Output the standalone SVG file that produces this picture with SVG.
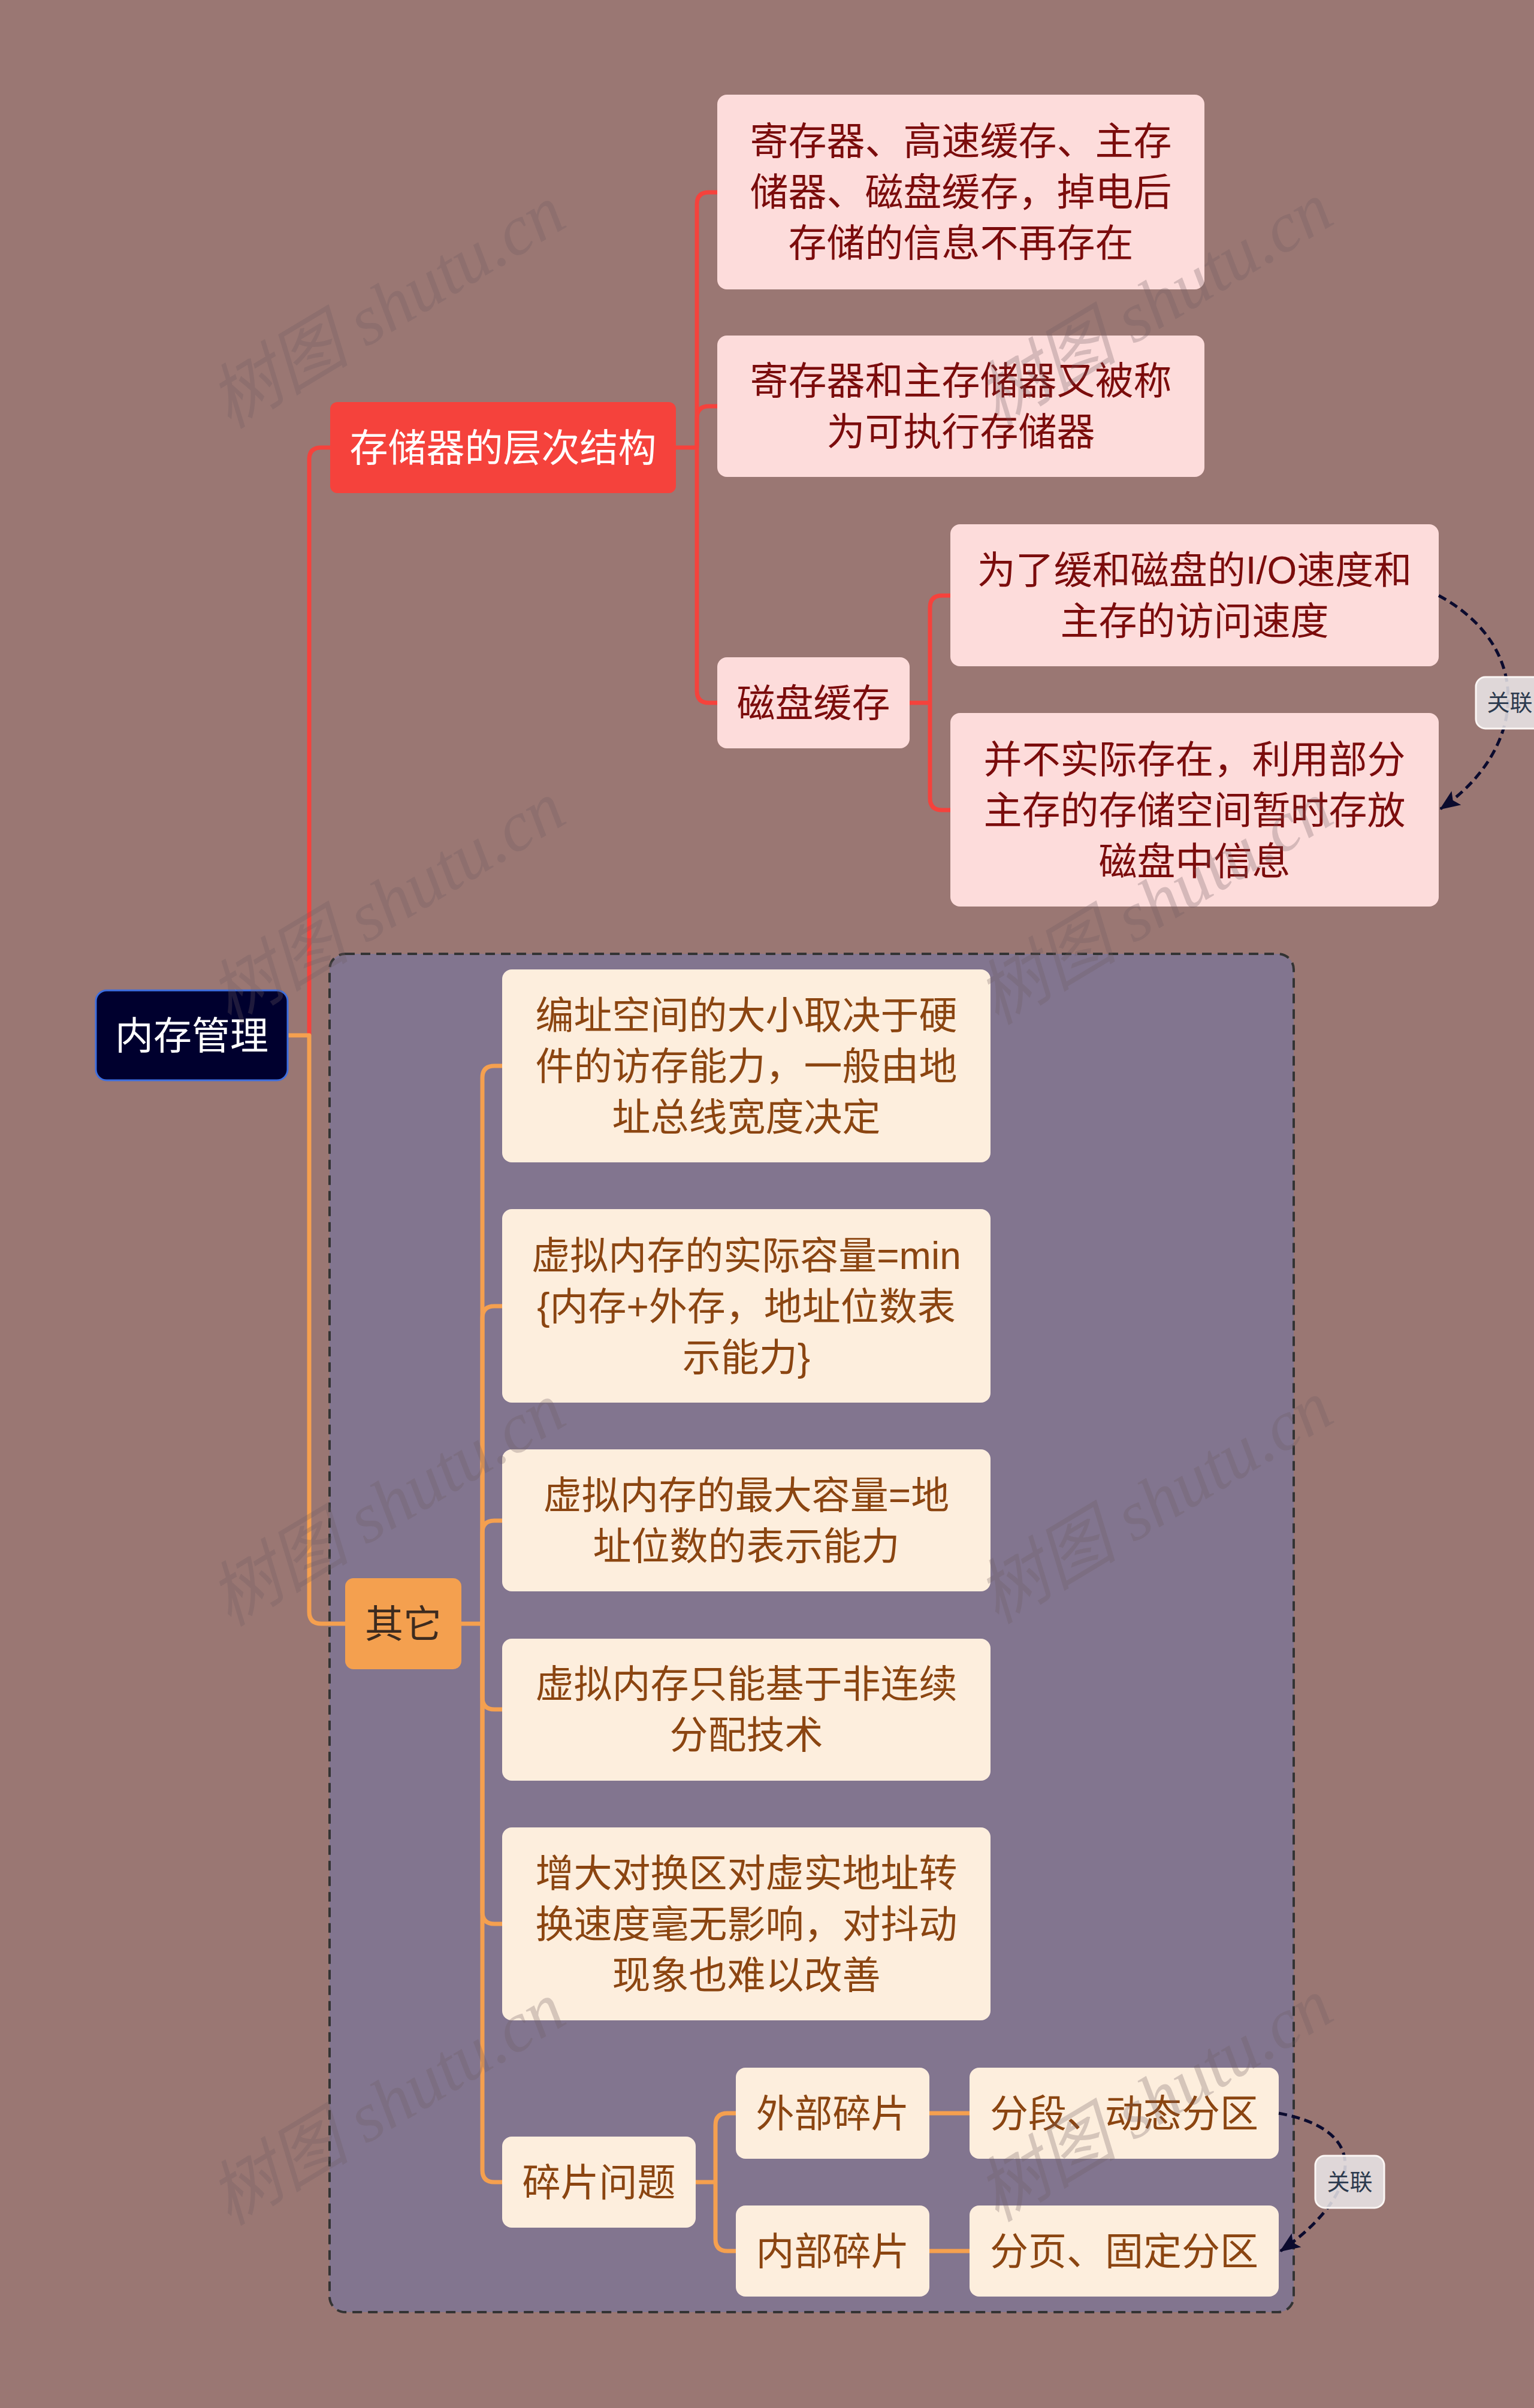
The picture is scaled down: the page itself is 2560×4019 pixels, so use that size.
<svg xmlns="http://www.w3.org/2000/svg" width="2560" height="4019" viewBox="0 0 2560 4019">
<defs>
<style>
.t{font-family:"Liberation Sans","Noto Sans CJK SC",sans-serif;font-size:64px;text-anchor:middle}
.pk{fill:#fddcdb}
.cr{fill:#fdeedd}
.tr{fill:#7b0c0c}
.to{fill:#8b4511}
.cr1{fill:none;stroke:#f5423c;stroke-width:7;stroke-linejoin:round}
.co1{fill:none;stroke:#f5a04f;stroke-width:7;stroke-linejoin:round}
.rel{fill:none;stroke:#0b0b2e;stroke-width:5;stroke-dasharray:14 8}
.lbl{fill:#ebe8ea;fill-opacity:0.85;stroke:#fbf6f4;stroke-width:3}
.lt{font-family:"Liberation Sans","Noto Sans CJK SC",sans-serif;font-size:38px;text-anchor:middle;fill:#2c3a4e}
.wm{font-family:"Liberation Serif","Noto Sans CJK SC",serif;font-size:118px;font-style:italic;fill:#6e5f60;fill-opacity:0.28}
</style>
<marker id="ah" markerUnits="userSpaceOnUse" markerWidth="34" markerHeight="28" viewBox="0 0 34 28" refX="32" refY="14" orient="auto">
<path d="M0,0 L34,14 L0,28 L7,14 Z" fill="#0b0b2e"/>
</marker>
</defs>
<rect x="0" y="0" width="2560" height="4019" fill="#9a7773"/>

<g id="boundary">
<rect x="550" y="1592" width="1609" height="2267" rx="26" fill="#82758f" stroke="#333" stroke-width="4" stroke-dasharray="16 10"/>
</g>

<g id="connectors">
<path class="cr1" d="M516,1728 V767 Q516,747 536,747 H551" stroke-width="8"/>
<path class="co1" d="M480,1728 H516 V2690 Q516,2710 536,2710 H576" stroke-width="8"/>
<path class="cr1" d="M1128,747 H1163"/>
<path class="cr1" d="M1163,747 V341 Q1163,321 1183,321 H1197"/>
<path class="cr1" d="M1163,747 V698 Q1163,678 1183,678 H1197"/>
<path class="cr1" d="M1163,747 V1153 Q1163,1173 1183,1173 H1197"/>
<path class="cr1" d="M1518,1173 H1552"/>
<path class="cr1" d="M1552,1173 V1014 Q1552,994 1572,994 H1586"/>
<path class="cr1" d="M1552,1173 V1332 Q1552,1352 1572,1352 H1586"/>
<path class="co1" d="M770,2710 H805"/>
<path class="co1" d="M805,2710 V1799 Q805,1779 825,1779 H838"/>
<path class="co1" d="M805,2710 V2200 Q805,2180 825,2180 H838"/>
<path class="co1" d="M805,2710 V2558 Q805,2538 825,2538 H838"/>
<path class="co1" d="M805,2710 V2833 Q805,2853 825,2853 H838"/>
<path class="co1" d="M805,2710 V3191 Q805,3211 825,3211 H838"/>
<path class="co1" d="M805,2710 V3622 Q805,3642 825,3642 H838"/>
<path class="co1" d="M1161,3642 H1194"/>
<path class="co1" d="M1194,3642 V3547 Q1194,3527 1214,3527 H1228"/>
<path class="co1" d="M1194,3642 V3737 Q1194,3757 1214,3757 H1228"/>
<path class="co1" d="M1551,3527 H1618" stroke-width="8"/>
<path class="co1" d="M1551,3757 H1618" stroke-width="8"/>
</g>

<g id="root">
<rect x="160" y="1653" width="320" height="150" rx="18" fill="#00002e" stroke="#3d6ee0" stroke-width="3"/>
<text class="t" x="320" y="1751" fill="#ffffff">内存管理</text>
</g>

<g id="n-hierarchy">
<rect x="551" y="671" width="577" height="152" rx="12" fill="#f5423c"/>
<text class="t" x="839.5" y="770" fill="#ffffff">存储器的层次结构</text>
</g>
<g id="n-leaf1">
<rect class="pk" x="1197" y="158" width="813" height="325" rx="16"/>
<text class="t tr"><tspan x="1603.5" y="258">寄存器、高速缓存、主存</tspan><tspan x="1603.5" y="343">储器、磁盘缓存，掉电后</tspan><tspan x="1603.5" y="428">存储的信息不再存在</tspan></text>
</g>
<g id="n-leaf2">
<rect class="pk" x="1197" y="560" width="813" height="236" rx="16"/>
<text class="t tr"><tspan x="1603.5" y="658">寄存器和主存储器又被称</tspan><tspan x="1603.5" y="743">为可执行存储器</tspan></text>
</g>
<g id="n-diskcache">
<rect class="pk" x="1197" y="1097" width="321" height="152" rx="16"/>
<text class="t tr" x="1357.5" y="1196">磁盘缓存</text>
</g>
<g id="n-leaf3">
<rect class="pk" x="1586" y="875" width="815" height="237" rx="16"/>
<text class="t tr"><tspan x="1993.5" y="974">为了缓和磁盘的I/O速度和</tspan><tspan x="1993.5" y="1059">主存的访问速度</tspan></text>
</g>
<g id="n-leaf4">
<rect class="pk" x="1586" y="1190" width="815" height="323" rx="16"/>
<text class="t tr"><tspan x="1993.5" y="1290">并不实际存在，利用部分</tspan><tspan x="1993.5" y="1375">主存的存储空间暂时存放</tspan><tspan x="1993.5" y="1460">磁盘中信息</tspan></text>
</g>

<g id="n-other">
<rect x="576" y="2634" width="194" height="152" rx="14" fill="#f4a04f"/>
<text class="t" x="673" y="2733" fill="#3d2b1f">其它</text>
</g>
<g id="n-a">
<rect class="cr" x="838" y="1618" width="815" height="322" rx="16"/>
<text class="t to"><tspan x="1245.5" y="1717">编址空间的大小取决于硬</tspan><tspan x="1245.5" y="1802">件的访存能力，一般由地</tspan><tspan x="1245.5" y="1887">址总线宽度决定</tspan></text>
</g>
<g id="n-b">
<rect class="cr" x="838" y="2018" width="815" height="323" rx="16"/>
<text class="t to"><tspan x="1245.5" y="2118">虚拟内存的实际容量=min</tspan><tspan x="1245.5" y="2203">{内存+外存，地址位数表</tspan><tspan x="1245.5" y="2288">示能力}</tspan></text>
</g>
<g id="n-c">
<rect class="cr" x="838" y="2419" width="815" height="237" rx="16"/>
<text class="t to"><tspan x="1245.5" y="2518">虚拟内存的最大容量=地</tspan><tspan x="1245.5" y="2603">址位数的表示能力</tspan></text>
</g>
<g id="n-d">
<rect class="cr" x="838" y="2735" width="815" height="237" rx="16"/>
<text class="t to"><tspan x="1245.5" y="2833">虚拟内存只能基于非连续</tspan><tspan x="1245.5" y="2918">分配技术</tspan></text>
</g>
<g id="n-e">
<rect class="cr" x="838" y="3050" width="815" height="322" rx="16"/>
<text class="t to"><tspan x="1245.5" y="3149">增大对换区对虚实地址转</tspan><tspan x="1245.5" y="3234">换速度毫无影响，对抖动</tspan><tspan x="1245.5" y="3319">现象也难以改善</tspan></text>
</g>
<g id="n-frag">
<rect class="cr" x="838" y="3566" width="323" height="152" rx="16"/>
<text class="t to" x="999.5" y="3665">碎片问题</text>
</g>
<g id="n-ext">
<rect class="cr" x="1228" y="3451" width="323" height="152" rx="16"/>
<text class="t to" x="1389.5" y="3550">外部碎片</text>
</g>
<g id="n-int">
<rect class="cr" x="1228" y="3681" width="323" height="152" rx="16"/>
<text class="t to" x="1389.5" y="3780">内部碎片</text>
</g>
<g id="n-seg">
<rect class="cr" x="1618" y="3451" width="516" height="152" rx="16"/>
<text class="t to" x="1876" y="3550">分段、动态分区</text>
</g>
<g id="n-page">
<rect class="cr" x="1618" y="3681" width="516" height="152" rx="16"/>
<text class="t to" x="1876" y="3780">分页、固定分区</text>
</g>

<g id="relations">
<path class="rel" d="M2401,994 C2560,1080 2550,1250 2404,1350" marker-end="url(#ah)"/>
<rect class="lbl" x="2463" y="1130" width="113" height="86" rx="16"/>
<text class="lt" x="2519.5" y="1186">关联</text>
<path class="rel" d="M2134,3527 C2310,3560 2250,3680 2137,3757" marker-end="url(#ah)"/>
<rect class="lbl" x="2195" y="3598" width="115" height="87" rx="16"/>
<text class="lt" x="2252.5" y="3655">关联</text>
</g>

<g id="watermarks">
<text class="wm" transform="translate(646,512) rotate(-31)" text-anchor="middle" y="40">树图 shutu.cn</text>
<text class="wm" transform="translate(1927,507) rotate(-31)" text-anchor="middle" y="40">树图 shutu.cn</text>
<text class="wm" transform="translate(646,1507) rotate(-31)" text-anchor="middle" y="40">树图 shutu.cn</text>
<text class="wm" transform="translate(1927,1507) rotate(-31)" text-anchor="middle" y="40">树图 shutu.cn</text>
<text class="wm" transform="translate(646,2511) rotate(-31)" text-anchor="middle" y="40">树图 shutu.cn</text>
<text class="wm" transform="translate(1927,2507) rotate(-31)" text-anchor="middle" y="40">树图 shutu.cn</text>
<text class="wm" transform="translate(646,3511) rotate(-31)" text-anchor="middle" y="40">树图 shutu.cn</text>
<text class="wm" transform="translate(1927,3505) rotate(-31)" text-anchor="middle" y="40">树图 shutu.cn</text>
</g>
</svg>
